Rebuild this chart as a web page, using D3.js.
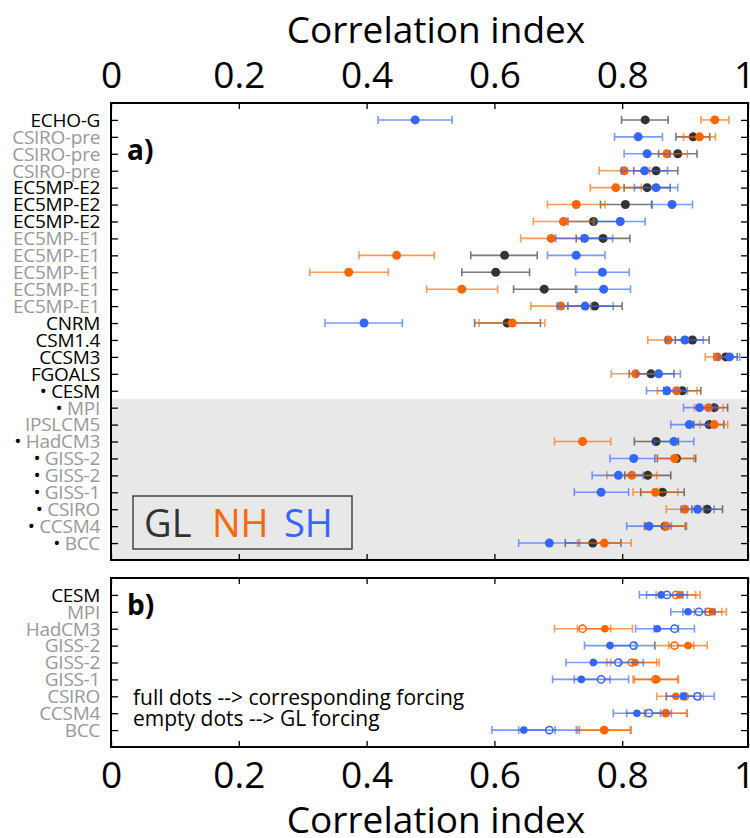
<!DOCTYPE html>
<html>
<head>
<meta charset="utf-8">
<script src="https://cdn.jsdelivr.net/npm/d3@7"></script>
<style>
  body { margin: 0; background: #fff; }
  svg { font-family: "Open Sans", sans-serif; }
</style>
</head>
<body>
<div id="container"></div>
<script>
// ---- data: panel a ----
var modelsA = ["ECHO-G","CSIRO-pre","CSIRO-pre","CSIRO-pre","EC5MP-E2","EC5MP-E2","EC5MP-E2",
  "EC5MP-E1","EC5MP-E1","EC5MP-E1","EC5MP-E1","EC5MP-E1","CNRM","CSM1.4","CCSM3","FGOALS",
  "CESM","MPI","IPSLCM5","HadCM3","GISS-2","GISS-2","GISS-1","CSIRO","CCSM4","BCC"]
var primaryA = [1,0,0,0,1,1,1,0,0,0,0,0,1,1,1,1,1,0,0,0,0,0,0,0,0,0]
var markedA  = [0,0,0,0,0,0,0,0,0,0,0,0,0,0,0,0,1,1,0,1,1,1,1,1,1,1]

// [value, low, high]
var glA = [[0.836,0.799,0.872],[0.911,0.884,0.937],[0.887,0.857,0.917],[0.853,0.818,0.887],
  [0.839,0.803,0.875],[0.805,0.766,0.846],[0.755,0.715,0.795],[0.770,0.728,0.812],
  [0.616,0.563,0.667],[0.602,0.549,0.655],[0.678,0.630,0.727],[0.757,0.715,0.800],
  [0.620,0.569,0.672],[0.910,0.883,0.936],[0.962,0.944,0.980],[0.845,0.811,0.881],
  [0.894,0.865,0.923],[0.944,0.922,0.965],[0.936,0.912,0.959],[0.853,0.819,0.888],
  [0.885,0.855,0.915],[0.840,0.804,0.876],[0.863,0.829,0.897],[0.933,0.909,0.957],
  [0.867,0.835,0.899],[0.754,0.711,0.798]]
var nhA = [[0.945,0.923,0.967],[0.921,0.896,0.946],[0.870,0.838,0.902],[0.803,0.764,0.843],
  [0.790,0.750,0.830],[0.728,0.683,0.773],[0.708,0.661,0.755],[0.689,0.641,0.737],
  [0.447,0.388,0.506],[0.372,0.311,0.434],[0.549,0.494,0.605],[0.704,0.657,0.751],
  [0.628,0.576,0.679],[0.872,0.840,0.903],[0.949,0.930,0.968],[0.821,0.783,0.860],
  [0.885,0.855,0.917],[0.935,0.913,0.958],[0.944,0.922,0.965],[0.738,0.694,0.782],
  [0.882,0.851,0.912],[0.815,0.776,0.854],[0.852,0.817,0.887],[0.898,0.869,0.927],
  [0.869,0.836,0.901],[0.772,0.730,0.814]]
var shA = [[0.476,0.418,0.534],[0.825,0.788,0.863],[0.839,0.803,0.875],[0.835,0.799,0.871],
  [0.853,0.819,0.887],[0.878,0.847,0.910],[0.797,0.757,0.836],[0.741,0.696,0.785],
  [0.728,0.683,0.773],[0.769,0.727,0.811],[0.771,0.729,0.813],[0.742,0.698,0.786],
  [0.396,0.335,0.456],[0.898,0.868,0.927],[0.968,0.951,0.984],[0.857,0.823,0.891],
  [0.870,0.838,0.902],[0.921,0.896,0.946],[0.905,0.876,0.934],[0.881,0.850,0.912],
  [0.818,0.781,0.851],[0.794,0.753,0.833],[0.767,0.725,0.810],[0.918,0.892,0.944],
  [0.842,0.807,0.877],[0.686,0.638,0.733]]

// ---- data: panel b ----
var modelsB = ["CESM","MPI","HadCM3","GISS-2","GISS-2","GISS-1","CSIRO","CCSM4","BCC"]
var primaryB = [1,0,0,0,0,0,0,0,0]
var nhFull = [[0.890,0.860,0.922],[0.941,0.918,0.963],[0.773,0.730,0.816],[0.903,0.873,0.933],
  [0.820,0.782,0.858],[0.854,0.819,0.888],[0.884,0.854,0.913],[0.869,0.836,0.902],[0.771,0.728,0.813]]
var nhEmpty = [[0.884,0.853,0.915],[0.935,0.913,0.956],[0.738,0.694,0.782],[0.882,0.851,0.912],
  [0.815,0.776,0.854],[0.852,0.817,0.887],[0.898,0.869,0.927],[0.868,0.835,0.901],[0.772,0.730,0.814]]
var shFull = [[0.861,0.827,0.895],[0.903,0.876,0.930],[0.855,0.821,0.888],[0.781,0.741,0.821],
  [0.755,0.712,0.797],[0.736,0.691,0.781],[0.896,0.869,0.922],[0.823,0.786,0.860],[0.646,0.596,0.695]]
var shEmpty = [[0.870,0.838,0.902],[0.920,0.895,0.945],[0.882,0.850,0.913],[0.818,0.781,0.851],
  [0.794,0.753,0.833],[0.767,0.725,0.810],[0.918,0.892,0.944],[0.842,0.807,0.877],[0.686,0.638,0.733]]

var xTicks = [0, 0.2, 0.4, 0.6, 0.8, 1]

var colGL = "#333333", colNH = "#ff6600", colSH = "#3366ff"
var grey = "#999999"

width = 750;
height = 838;

var svg = d3.select("#container").append("svg")
    .attr("width", width)
    .attr("height", height)

var x = d3.scaleLinear().domain([0, 1]).range([111, 750])
var left = 111, right = 748

var ya = d3.scalePoint().domain(d3.range(modelsA.length)).range([103, 560]).padding(1)
var yb = d3.scalePoint().domain(d3.range(modelsB.length)).range([578, 747]).padding(1)

// shaded area of panel a (models with marked forcing)
var shadeTop = ya(16) + ya.step() / 2
svg.append("rect")
    .attr("x", left).attr("y", shadeTop)
    .attr("width", right - left).attr("height", 560 - shadeTop)
    .attr("fill", "#e8e8e8")

function fmt(d) { return d === 0 || d === 1 ? d3.format("d")(d) : d3.format(".1f")(d) }

// axes
function ticksOnly(g) {
  g.select(".domain").remove()
  g.selectAll(".tick line").attr("stroke", "#000").attr("stroke-width", 1.3)
}

svg.append("g").attr("transform", "translate(0,103)")
    .call(d3.axisTop(x).tickValues(xTicks).tickSize(-6).tickSizeOuter(0).tickPadding(15).tickFormat(fmt))
    .call(ticksOnly)
    .call(g => g.selectAll("text").attr("font-size", 37).attr("font-family", "Open Sans").attr("fill", "#000"))
    .call(g => g.selectAll(".tick:last-of-type text").attr("dx", -6))

svg.append("g").attr("transform", "translate(0,560)")
    .call(d3.axisBottom(x).tickValues(xTicks).tickSize(-6).tickFormat(""))
    .call(ticksOnly)
svg.append("g").attr("transform", "translate(0,578)")
    .call(d3.axisTop(x).tickValues(xTicks).tickSize(-6).tickFormat(""))
    .call(ticksOnly)
svg.append("g").attr("transform", "translate(0,747)")
    .call(d3.axisBottom(x).tickValues(xTicks).tickSize(-6).tickSizeOuter(0).tickPadding(15).tickFormat(fmt))
    .call(ticksOnly)
    .call(g => g.selectAll("text").attr("font-size", 37).attr("font-family", "Open Sans").attr("fill", "#000"))
    .call(g => g.selectAll(".tick:last-of-type text").attr("dx", -6))

;[ya, yb].forEach(function(y) {
  svg.append("g").attr("transform", "translate(" + left + ",0)")
      .call(d3.axisLeft(y).tickSize(-7).tickFormat(""))
      .call(ticksOnly)
  svg.append("g").attr("transform", "translate(" + right + ",0)")
      .call(d3.axisRight(y).tickSize(-7).tickFormat(""))
      .call(ticksOnly)
})

// frames
svg.append("rect").attr("x", left).attr("y", 103).attr("width", right - left).attr("height", 457)
    .attr("fill", "none").attr("stroke", "#000").attr("stroke-width", 2)
svg.append("rect").attr("x", left).attr("y", 578).attr("width", right - left).attr("height", 169)
    .attr("fill", "none").attr("stroke", "#000").attr("stroke-width", 2)

// axis titles
svg.append("text").attr("x", 436).attr("y", 43).attr("text-anchor", "middle")
    .attr("font-size", 37).text("Correlation index")
svg.append("text").attr("x", 436).attr("y", 833).attr("text-anchor", "middle")
    .attr("font-size", 37).text("Correlation index")

// model labels
var labA = svg.append("g").selectAll("text")
    .data(modelsA)
    .enter().append("text")
      .attr("x", 100)
      .attr("y", (d, i) => ya(i))
      .attr("dy", "0.36em")
      .attr("text-anchor", "end")
      .attr("font-size", 19)
      .attr("letter-spacing", -0.3)
labA.filter((d, i) => markedA[i]).append("tspan").attr("fill", "#000").text("\u2022 ")
labA.append("tspan").attr("fill", (d, i) => primaryA[i] ? "#000" : grey).text(d => d)

svg.append("g").selectAll("text")
    .data(modelsB)
    .enter().append("text")
      .attr("x", 100)
      .attr("y", (d, i) => yb(i))
      .attr("dy", "0.36em")
      .attr("text-anchor", "end")
      .attr("font-size", 19)
      .attr("letter-spacing", -0.3)
      .attr("fill", (d, i) => primaryB[i] ? "#000" : grey)
      .text(d => d)

// error bars + dots
function series(y, data, color, r, open) {
  var g = svg.append("g")
  var bars = g.selectAll("g.bar").data(data).enter().append("g")
      .attr("class", "bar")
      .attr("stroke", color).attr("stroke-width", 1.6).attr("opacity", 0.65)
  bars.append("line")
      .attr("x1", d => x(d[1])).attr("x2", d => x(d[2]))
      .attr("y1", (d, i) => y(i)).attr("y2", (d, i) => y(i))
  bars.append("line")
      .attr("x1", d => x(d[1])).attr("x2", d => x(d[1]))
      .attr("y1", (d, i) => y(i) - 4).attr("y2", (d, i) => y(i) + 4)
  bars.append("line")
      .attr("x1", d => x(d[2])).attr("x2", d => x(d[2]))
      .attr("y1", (d, i) => y(i) - 4).attr("y2", (d, i) => y(i) + 4)
  g.selectAll("circle").data(data).enter().append("circle")
      .attr("cx", d => x(d[0]))
      .attr("cy", (d, i) => y(i))
      .attr("r", r)
      .attr("fill", open ? "#fff" : color)
      .attr("stroke", open ? color : "none")
      .attr("stroke-width", 1.5)
}

series(ya, glA, colGL, 4.5, false)
series(ya, nhA, colNH, 4.5, false)
series(ya, shA, colSH, 4.5, false)

series(yb, nhEmpty, colNH, 3.6, true)
series(yb, nhFull, colNH, 3.8, false)
series(yb, shEmpty, colSH, 3.6, true)
series(yb, shFull, colSH, 3.8, false)

// panel tags
svg.append("text").attr("x", 127).attr("y", 160).attr("font-size", 28).attr("font-weight", "bold").text("a)")
svg.append("text").attr("x", 127).attr("y", 615).attr("font-size", 28).attr("font-weight", "bold").text("b)")

// legend
svg.append("rect").attr("x", 133).attr("y", 496).attr("width", 219).attr("height", 53)
    .attr("fill", "#e8e8e8").attr("stroke", "#444").attr("stroke-width", 1.5)
var leg = svg.append("text").attr("y", 537).attr("font-size", 38)
leg.append("tspan").attr("x", 144).attr("fill", colGL).text("GL")
leg.append("tspan").attr("x", 212).attr("fill", colNH).text("NH")
leg.append("tspan").attr("x", 284).attr("fill", colSH).text("SH")

// note
svg.append("text").attr("x", 133).attr("y", 705).attr("font-size", 21)
    .text("full dots --> corresponding forcing")
svg.append("text").attr("x", 133).attr("y", 726).attr("font-size", 21)
    .text("empty dots --> GL forcing")
</script>
</body>
</html>
